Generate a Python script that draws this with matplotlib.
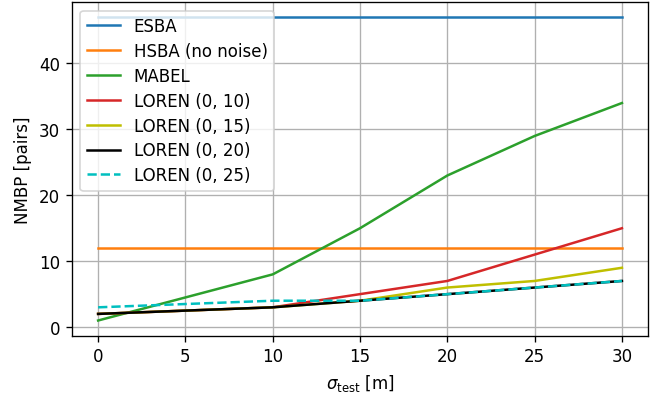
import matplotlib
matplotlib.use("Agg")
import matplotlib.pyplot as plt


sigma = [0, 5, 10, 15, 20, 25, 30]

esba = [47, 47, 47, 47, 47, 47, 47]
hsba = [12, 12, 12, 12, 12, 12, 12]
mabel = [1, 4.5, 8, 15, 23, 29, 34]
loren_10 = [2, 2.5, 3, 5, 7, 11, 15]
loren_15 = [2, 2.5, 3, 4, 6, 7, 9]
loren_20 = [2, 2.5, 3, 4, 5, 6, 7]
loren_25 = [3, 3.5, 4, 4, 5, 6, 7]


fig, ax = plt.subplots(figsize=(5.5, 3.3083), dpi=120)

ax.plot(sigma, esba, color="tab:blue", label="ESBA")
ax.plot(sigma, hsba, color="tab:orange", label="HSBA (no noise)")
ax.plot(sigma, mabel, color="tab:green", label="MABEL")
ax.plot(sigma, loren_10, color="tab:red", label="LOREN (0, 10)")
ax.plot(sigma, loren_15, color="y", label="LOREN (0, 15)")
ax.plot(sigma, loren_20, color="k", label="LOREN (0, 20)")
ax.plot(sigma, loren_25, color="c", linestyle="--", label="LOREN (0, 25)")

ax.set_xlabel(r"$\sigma_{\mathrm{test}}$ [m]")
ax.set_ylabel("NMBP [pairs]")
ax.grid(True)
ax.legend(loc="upper left", labelspacing=0.41)

fig.subplots_adjust(left=0.109, right=0.982, top=0.992, bottom=0.152)
fig.savefig("out.png", dpi=120)
